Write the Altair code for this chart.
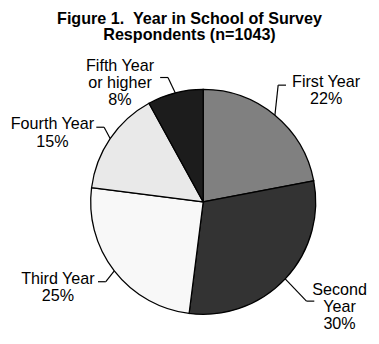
import altair as alt
import pandas as pd

categories = ["First Year", "Second Year", "Third Year", "Fourth Year", "Fifth Year or higher"]
values = [22, 30, 25, 15, 8]
label_text = ["First Year\n22%", "Second\nYear\n30%", "Third Year\n25%", "Fourth Year\n15%", "Fifth Year\nor higher\n8%"]
colors = ["#808080", "#333333", "#f8f8f8", "#e9e9e9", "#1c1c1c"]

df = pd.DataFrame({
    "idx": list(range(len(categories))),
    "category": categories,
    "value": values,
    "label": label_text,
})

TOP = 40
CX, CY, R = 199.5, 154.5, 115
LH = 17.5
FONT = "Liberation Sans"

base = alt.Chart(df).transform_joinaggregate(
    total="sum(value)"
).transform_window(
    cum="sum(value)", sort=[alt.SortField("idx")], frame=[None, 0]
).transform_calculate(
    mid="(datum.cum - datum.value/2) / datum.total * 2 * PI",
    lines="split(datum.label, '\\n')",
).transform_calculate(
    sgn="sin(datum.mid) >= 0 ? 1 : -1",
    up="cos(datum.mid) > 0",
    n="length(datum.lines)",
    ex=f"{CX} + {R}*sin(datum.mid)",
    ey=f"{CY} - {R}*cos(datum.mid)",
).transform_calculate(
    lx=f"{CX} + datum.sgn*max(30 + 150*abs(sin(datum.mid)), 85)",
    ly=f"{CY} - (datum.up ? (datum.sgn > 0 ? 147 : 125) : (datum.sgn > 0 ? 157 : 143))*cos(datum.mid)",
).transform_flatten(
    ["lines"], as_=["line"]
).transform_window(
    li="row_number()", groupby=["category"]
).transform_calculate(
    len="length(datum.line)",
).transform_joinaggregate(
    maxlen="max(len)", groupby=["category"]
).transform_calculate(
    ty=f"datum.ly + (datum.li - 1 - (datum.n - 1)/2)*{LH}",
    by="datum.ly - 6",
    bx="datum.lx - datum.sgn*(datum.maxlen*3.8 + 11)",
).transform_calculate(
    sx="datum.bx + 8*datum.sgn",
)

pie = alt.Chart(df).mark_arc(radius=R, stroke="black", strokeWidth=1.3).encode(
    theta=alt.Theta("value:Q", stack=True),
    color=alt.Color("category:N", scale=alt.Scale(domain=categories, range=colors), legend=None),
    order=alt.Order("idx:Q"),
    x=alt.value(CX),
    y=alt.value(CY),
)

first_line = base.transform_filter("datum.li == 1")

leader = first_line.mark_rule(color="black", strokeWidth=1.2).encode(
    x=alt.X("ex:Q", scale=None, axis=None),
    y=alt.Y("ey:Q", scale=None, axis=None),
    x2="bx:Q",
    y2="by:Q",
)

stub = first_line.mark_rule(color="black", strokeWidth=1.2).encode(
    x=alt.X("bx:Q", scale=None, axis=None),
    y=alt.Y("by:Q", scale=None, axis=None),
    x2="sx:Q",
    y2="by:Q",
)

labels = base.mark_text(font=FONT, fontSize=16.5, align="center", baseline="middle",
                        color="black").encode(
    x=alt.X("lx:Q", scale=None, axis=None),
    y=alt.Y("ty:Q", scale=None, axis=None),
    text="line:N",
)

chart = alt.layer(pie, leader, stub, labels).properties(
    width=371,
    height=328 - TOP,
    background="white",
    autosize=alt.AutoSizeParams(type="none"),
    padding={"left": 0, "top": TOP, "right": 0, "bottom": 0},
    title=alt.TitleParams(
        text=["Figure 1.\u00a0 Year in School of Survey", "Respondents (n=1043)"],
        font=FONT, fontSize=16.5, fontWeight="bold", lineHeight=17,
        anchor="middle", color="black", offset=7,
    ),
).configure_view(strokeWidth=0)

chart.save("out.html", embed_options={"renderer": "svg", "actions": False})
